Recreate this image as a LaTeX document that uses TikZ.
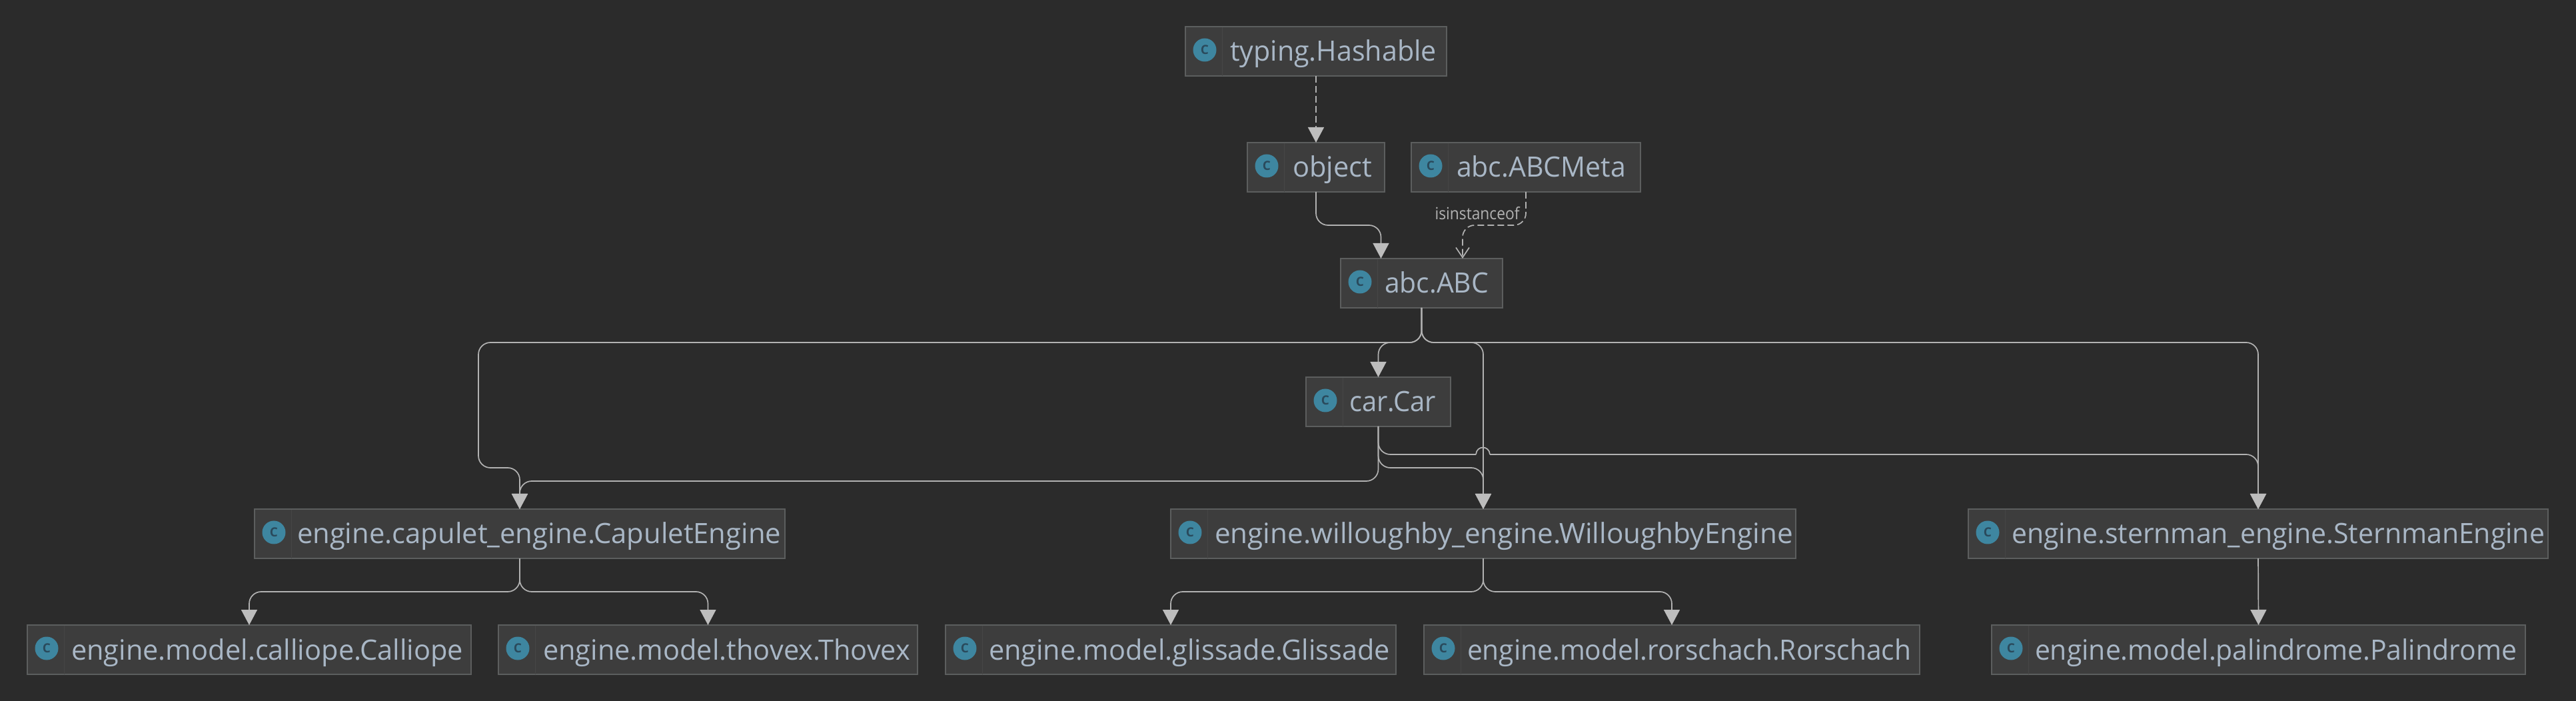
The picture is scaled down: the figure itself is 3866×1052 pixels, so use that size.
\documentclass[tikz,border=0pt]{standalone}
\usepackage{fontspec}
\usepackage{graphicx}
\setmainfont{Open Sans}
\usetikzlibrary{arrows.meta}
\definecolor{bgc}{HTML}{2B2B2B}
\definecolor{boxc}{HTML}{3D3D3D}
\definecolor{edgec}{HTML}{5C5E5E}
\definecolor{divc}{HTML}{464646}
\definecolor{txtc}{HTML}{A9B7C6}
\definecolor{iconc}{HTML}{3E86A0}
\definecolor{iconl}{HTML}{2A4A5C}
\definecolor{linec}{HTML}{B2B2B2}
\definecolor{tipc}{HTML}{BDBDBD}
\tikzset{
  classbox/.style={draw=edgec,fill=boxc,line width=0.8pt,inner sep=0pt,outer sep=0pt,anchor=north west,
    text=txtc,text height=26pt,text depth=11pt,font=\fontsize{21pt}{22pt}\selectfont},
  iconnode/.style={circle,fill=iconc,minimum size=17.5pt,inner sep=0pt,text=iconl,
    font=\fontsize{9.5pt}{10pt}\selectfont\bfseries},
  divider/.style={draw=divc,line width=0.5pt},
  topedge/.style={draw=edgec,line width=1.3pt},
  conn/.style={draw=linec,line width=0.85pt,rounded corners=9pt},
  solidtip/.style={-{Triangle[width=12pt,length=11.5pt,fill=tipc,color=tipc]}},
  dashline/.style={dash pattern=on 5pt off 2.5pt},
  opentip/.style={-{Straight Barb[length=7.5pt,width=10pt]}},
  lbl/.style={text=linec,inner sep=0pt,font=\fontsize{12.5pt}{13pt}\selectfont}
}
\newcommand\cbox[7]{% name, left, top, right, text left, text width, text
  \pgfmathsetlengthmacro\bw{(#4-#2)*0.5}
  \pgfmathsetlengthmacro\pad{(#5-#2)*0.5}
  \pgfmathsetlengthmacro\tw{#6*0.5}
  \node[classbox] (#1) at (#2,#3) {\makebox[\bw][l]{\hspace*{\pad}\resizebox{\tw}{\height}{#7}}};
  \node[iconnode] (#1-icon) at ([xshift=14.5pt,yshift=1pt]#1.west) {C};
  \draw[divider] ([xshift=27.5pt]#1.north west) -- ([xshift=27.5pt]#1.south west);
  \draw[topedge] (#1.north west) -- (#1.north east);
}
\begin{document}
\begin{tikzpicture}[x=0.5pt,y=-0.5pt]
\useasboundingbox (0,0) rectangle (3866,1052);
\fill[bgc] (0,0) rectangle (3866,1052);
\cbox{hash}{1779}{40}{2171}{1846}{310}{typing.Hashable}
\cbox{obj}{1872}{214}{2078}{1940}{119}{object}
\cbox{meta}{2118}{214}{2462}{2186}{254}{abc.ABCMeta}
\cbox{abc}{2012}{388}{2255}{2078}{156}{abc.ABC}
\cbox{car}{1960}{566}{2177}{2025}{130}{car.Car}
\cbox{cap}{382}{764}{1178}{446}{726}{engine.capulet\_engine.CapuletEngine}
\cbox{wil}{1757}{764}{2695}{1823}{868}{engine.willoughby\_engine.WilloughbyEngine}
\cbox{ste}{2954}{764}{3824}{3019}{800}{engine.sternman\_engine.SternmanEngine}
\cbox{cal}{41}{938}{707}{107}{588}{engine.model.calliope.Calliope}
\cbox{tho}{748}{938}{1377}{815}{551}{engine.model.thovex.Thovex}
\cbox{gli}{1419}{938}{2095}{1484}{602}{engine.model.glissade.Glissade}
\cbox{ror}{2137}{938}{2881}{2202}{666}{engine.model.rorschach.Rorschach}
\cbox{pal}{2989}{938}{3790}{3054}{723}{engine.model.palindrome.Palindrome}
% free bend points
\coordinate (abcInA) at (2072.5,388);
\coordinate (abcInB) at (2195,388);
\coordinate (busObj) at (0,338);
\coordinate (busAbc) at (0,514);
\coordinate (capBend) at (718,702);
\coordinate (capBus) at (0,702);
\coordinate (carCap) at (0,722);
\coordinate (carWil) at (0,702);
\coordinate (hopL) at (2215,682);
\coordinate (hopR) at (2236,682);
\coordinate (busCap) at (0,888);
% edges
\draw[conn,dashline,solidtip] (hash.south) -- (obj.north);
\draw[conn,solidtip] (obj.south) |- (busObj -| abcInA) -- (abcInA);
\draw[conn,dashline,opentip] (meta.south) |- (busObj -| abcInB) -- (abcInB);
\node[lbl] (isa) at (2217,320) {\resizebox{63.5pt}{\height}{isinstanceof}};
\draw[conn,solidtip] (abc.south) |- (busAbc -| car.north) -- (car.north);
\draw[conn,solidtip] (abc.south) |- (busAbc -| capBend) -- (capBend) -- (capBus -| cap.north) -- (cap.north);
\draw[conn,solidtip] (abc.south) |- (busAbc -| wil.north) -- (wil.north);
\draw[conn,solidtip] (abc.south) |- (busAbc -| ste.north) -- (ste.north);
\draw[conn,solidtip] (car.south) |- (carCap -| cap.north) -- (cap.north);
\draw[conn,solidtip] (car.south) |- (carWil -| wil.north) -- (wil.north);
\draw[conn] (car.south) |- (hopL);
\draw[draw=linec,line width=0.85pt] (hopL) .. controls ([shift={(1,-14)}]hopL) and ([shift={(-1,-14)}]hopR) .. (hopR);
\draw[conn,solidtip] (hopR) -| (ste.north);
\draw[conn,solidtip] (cap.south) |- (busCap -| cal.north) -- (cal.north);
\draw[conn,solidtip] (cap.south) |- (busCap -| tho.north) -- (tho.north);
\draw[conn,solidtip] (wil.south) |- (busCap -| gli.north) -- (gli.north);
\draw[conn,solidtip] (wil.south) |- (busCap -| ror.north) -- (ror.north);
\draw[conn,solidtip] (ste.south) -- (pal.north);
\end{tikzpicture}
\end{document}
